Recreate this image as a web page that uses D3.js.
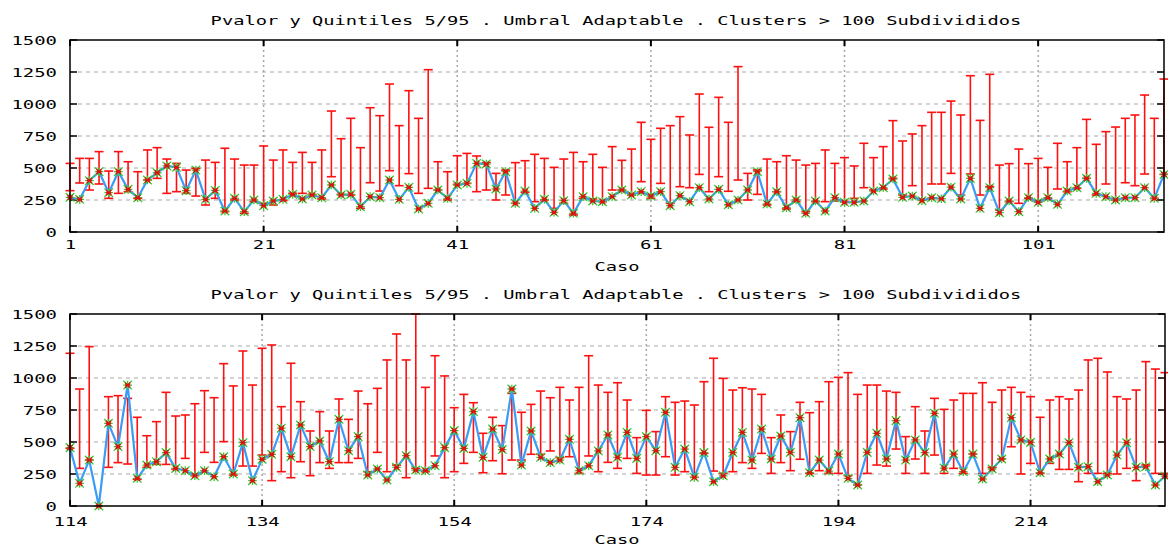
<!DOCTYPE html>
<html><head><meta charset="utf-8">
<script src="https://cdn.jsdelivr.net/npm/d3@7"></script>
<style>
body{margin:0;background:#fff}
svg{display:block}
text{font-family:"DejaVu Sans Mono",monospace;font-size:13px;fill:#000}
</style>
</head><body><svg id="c" width="1168" height="547"></svg>
<script>
const chartTitle = "Pvalor y Quintiles 5/95 . Umbral Adaptable . Clusters > 100 Subdivididos";
const xLabel = "Caso";
const yTicks = [0, 250, 500, 750, 1000, 1250, 1500];

// Panel 1: cases 1..114
const firstCase1 = 1, lastCase1 = 114;
const xTicks1 = [1, 21, 41, 61, 81, 101];
const pvalor1 = [271,255,401,471,307,471,333,268,406,463,516,505,323,484,255,325,164,263,159,250,206,242,255,294,258,289,268,367,289,294,198,276,268,406,255,349,180,224,328,263,367,380,536,531,336,471,224,320,185,255,154,245,146,276,242,237,276,328,289,315,281,315,206,284,237,346,258,333,213,250,328,471,219,315,190,250,146,242,164,268,232,232,242,320,346,414,271,281,245,268,260,350,258,419,185,346,151,242,159,268,232,268,216,320,346,419,302,276,250,268,268,346,263,450];
const q95_1 = [536,575,575,628,476,628,549,471,641,659,570,536,484,497,562,544,654,570,523,523,672,562,641,544,622,544,641,945,729,888,659,971,909,1156,831,1104,888,1268,549,471,596,614,594,542,458,484,542,557,607,575,505,570,622,549,607,505,667,560,648,857,724,810,831,901,758,1078,818,1052,857,1292,458,484,570,549,596,562,523,536,641,536,581,516,693,581,667,870,711,766,831,935,935,1023,914,1221,872,1232,523,534,648,534,575,505,693,549,659,880,685,784,820,888,914,1070,888,1195];
const q05_1 = [323,383,328,375,263,302,315,263,406,419,302,315,302,281,211,263,159,250,146,237,224,211,245,302,302,294,258,432,294,289,185,385,320,479,362,456,302,341,328,250,372,380,315,328,250,289,224,310,237,250,185,224,133,263,258,237,328,328,289,393,263,380,224,354,346,450,315,432,318,406,250,294,211,315,180,237,159,237,237,242,237,263,346,328,336,419,289,362,250,375,375,458,289,453,289,354,172,237,224,263,237,263,336,315,341,419,289,375,250,385,362,453,263,450];

// Panel 2: cases 114..228
const firstCase2 = 114, lastCase2 = 228;
const xTicks2 = [114, 134, 154, 174, 194, 214];
const pvalor2 = [456,177,359,0,646,464,945,216,320,346,417,294,276,237,276,229,385,250,495,198,365,404,608,385,633,464,508,346,677,432,542,242,289,203,302,393,281,276,315,456,589,450,737,380,601,441,914,320,586,380,339,359,521,276,315,430,555,380,575,372,542,432,732,302,445,224,417,190,236,418,575,359,601,367,547,419,690,260,359,273,406,216,164,419,568,367,667,359,516,417,724,296,406,268,406,211,289,367,690,516,497,260,367,406,495,302,307,190,242,398,495,302,307,164,234];
const q95_2 = [1193,914,1245,null,854,862,841,693,549,659,888,703,711,799,901,846,1112,938,1211,945,1232,1258,776,1115,815,586,737,586,836,677,898,799,919,1141,1344,1141,1500,927,1174,1016,768,872,807,568,693,628,880,732,794,898,846,927,828,927,1174,945,888,963,828,534,747,581,854,810,820,789,971,1154,997,906,924,914,872,534,711,581,810,729,815,971,1005,1042,872,945,945,898,888,542,776,586,841,755,828,880,880,963,810,906,927,888,854,693,828,854,836,906,1141,1154,1047,854,836,906,1128,1070,1042];
const q05_2 = [450,294,359,null,302,339,328,208,302,325,325,289,372,237,419,341,503,242,312,312,398,198,268,221,346,237,339,294,339,339,372,268,419,268,320,221,294,268,391,221,268,333,419,260,354,252,359,359,404,404,430,378,385,255,391,268,341,294,372,255,242,242,385,242,268,224,411,273,255,268,339,294,411,255,339,276,365,255,276,255,255,237,164,255,320,312,445,255,367,255,398,255,294,255,406,255,302,367,463,250,333,255,333,286,286,190,255,255,255,250,294,198,320,255,255];

const svg = d3.select("#c");

function panel(cfg) {
  const {first, last, ticks, pv, hi, lo, left, right, top, bottom, titleY, tickLabelY, xLabelY} = cfg;
  const data = pv.map((v, i) => ({c: first + i, v, hi: hi[i], lo: lo[i]}));
  const x = d3.scaleLinear().domain([first, last]).range([left, right]);
  const y = d3.scaleLinear().domain([0, 1500]).range([bottom, top]);
  const g = svg.append("g");

  // title
  g.append("text").attr("x", 616).attr("y", titleY).attr("text-anchor", "middle")
    .attr("textLength", chartTitle.length * 11.26).attr("lengthAdjust", "spacingAndGlyphs")
    .text(chartTitle);

  // horizontal grid
  g.append("g").selectAll("line").data(yTicks.filter(t => t > 0 && t < 1500)).join("line")
    .attr("x1", left).attr("x2", right).attr("y1", d => y(d)).attr("y2", d => y(d))
    .attr("stroke", "#a8a8a8").attr("stroke-width", 1).attr("stroke-dasharray", "4,4");
  // vertical grid
  g.append("g").selectAll("line").data(ticks.filter(t => t > first)).join("line")
    .attr("x1", d => x(d)).attr("x2", d => x(d)).attr("y1", top).attr("y2", bottom)
    .attr("stroke", "#a8a8a8").attr("stroke-width", 1.5).attr("stroke-dasharray", "2,3");

  // y axis labels
  const ya = g.append("g").attr("transform", `translate(${left},0)`)
    .call(d3.axisLeft(y).tickValues(yTicks).tickSize(0).tickPadding(13).tickFormat(d3.format("d")));
  ya.select(".domain").remove();
  ya.selectAll("text").style("font-family", '"DejaVu Sans Mono",monospace').style("font-size", "13px")
    .attr("fill", "#000").attr("dy", "0.36em")
    .each(function(d) { const s = String(d); d3.select(this).attr("textLength", s.length * 11.4).attr("lengthAdjust", "spacingAndGlyphs"); });

  // x axis labels
  const xa = g.append("g").attr("transform", `translate(0,${bottom})`)
    .call(d3.axisBottom(x).tickValues(ticks).tickSize(0).tickPadding(tickLabelY - bottom - 10).tickFormat(d3.format("d")));
  xa.select(".domain").remove();
  xa.selectAll("text").style("font-family", '"DejaVu Sans Mono",monospace').style("font-size", "13px")
    .attr("fill", "#000")
    .each(function(d) { const s = String(d); d3.select(this).attr("textLength", s.length * 11.4).attr("lengthAdjust", "spacingAndGlyphs"); });

  g.append("text").attr("x", 617).attr("y", xLabelY).attr("text-anchor", "middle")
    .attr("textLength", xLabel.length * 11.3).attr("lengthAdjust", "spacingAndGlyphs").text(xLabel);

  // ticks on frame (inward)
  const tk = g.append("g").attr("stroke", "#000").attr("stroke-width", 1.5);
  yTicks.forEach(t => {
    tk.append("line").attr("x1", left).attr("x2", left + 7).attr("y1", y(t)).attr("y2", y(t));
    tk.append("line").attr("x1", right).attr("x2", right - 7).attr("y1", y(t)).attr("y2", y(t));
  });
  ticks.forEach(t => {
    tk.append("line").attr("x1", x(t)).attr("x2", x(t)).attr("y1", bottom).attr("y2", bottom - 6).attr("stroke-width", 2);
    tk.append("line").attr("x1", x(t)).attr("x2", x(t)).attr("y1", top).attr("y2", top + 6).attr("stroke-width", 2);
  });

  // error bars
  const eb = data.filter(d => d.hi != null && d.lo != null);
  const bars = g.append("g").attr("stroke", "#ff1010").attr("stroke-width", 1.6);
  bars.selectAll("line.v").data(eb).join("line").attr("class", "v")
    .attr("x1", d => x(d.c)).attr("x2", d => x(d.c)).attr("y1", d => y(d.lo)).attr("y2", d => y(d.hi));
  bars.selectAll("line.t").data(eb).join("line").attr("class", "t")
    .attr("x1", d => x(d.c) - 4.5).attr("x2", d => x(d.c) + 4.5).attr("y1", d => y(d.hi)).attr("y2", d => y(d.hi));
  bars.selectAll("line.b").data(eb).join("line").attr("class", "b")
    .attr("x1", d => x(d.c) - 4.5).attr("x2", d => x(d.c) + 4.5).attr("y1", d => y(d.lo)).attr("y2", d => y(d.lo));

  // line
  const line = d3.line().x(d => x(d.c)).y(d => y(d.v));
  g.append("path").datum(data).attr("d", line).attr("fill", "none")
    .attr("stroke", "#3a9cf5").attr("stroke-width", 2.2).attr("stroke-linejoin", "round");

  // markers
  const m = g.append("g");
  const r = 4.3;
  m.selectAll("path.g").data(data).join("path").attr("class", "g")
    .attr("d", d => { const cx = x(d.c), cy = y(d.v);
      return `M${cx-r},${cy}H${cx+r}M${cx},${cy-r}V${cy+r}M${cx-r},${cy-r}L${cx+r},${cy+r}M${cx-r},${cy+r}L${cx+r},${cy-r}`; })
    .attr("stroke", "#33cc33").attr("stroke-width", 1.3).attr("fill", "none");
  const r2 = 2.6;
  m.selectAll("path.r").data(data).join("path").attr("class", "r")
    .attr("d", d => { const cx = x(d.c), cy = y(d.v);
      return `M${cx-r2},${cy}H${cx+r2}M${cx-r2},${cy-r2}L${cx+r2},${cy+r2}M${cx-r2},${cy+r2}L${cx+r2},${cy-r2}`; })
    .attr("stroke", "#e01010").attr("stroke-width", 1.4).attr("fill", "none");

  // frame
  g.append("rect").attr("x", left).attr("y", top).attr("width", right - left).attr("height", bottom - top)
    .attr("fill", "none").attr("stroke", "#000").attr("stroke-width", 1.5);
}

panel({first: firstCase1, last: lastCase1, ticks: xTicks1, pv: pvalor1, hi: q95_1, lo: q05_1,
  left: 70, right: 1164, top: 40, bottom: 232, titleY: 25, tickLabelY: 250, xLabelY: 271});
panel({first: firstCase2, last: lastCase2, ticks: xTicks2, pv: pvalor2, hi: q95_2, lo: q05_2,
  left: 70, right: 1165, top: 314, bottom: 506, titleY: 299, tickLabelY: 527, xLabelY: 544});
</script>
</body></html>
